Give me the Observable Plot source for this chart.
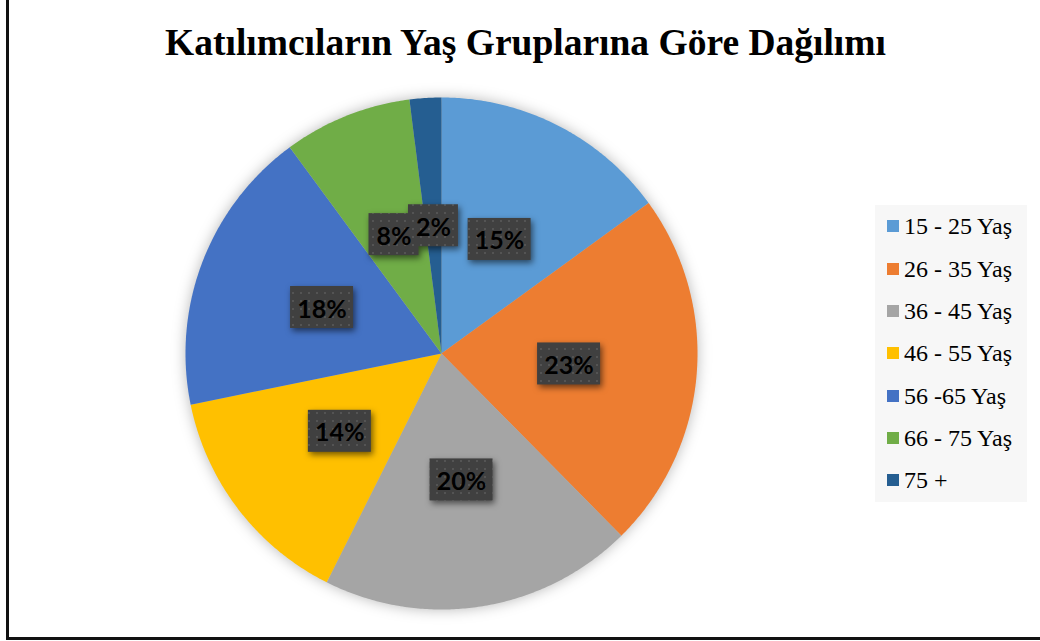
<!DOCTYPE html>
<html>
<head>
<meta charset="utf-8">
<script src="https://cdn.jsdelivr.net/npm/d3@7"></script>
<script src="https://cdn.jsdelivr.net/npm/@observablehq/plot@0.6"></script>
<style>
  html, body { margin: 0; padding: 0; background: #fff; }
  #page { position: relative; width: 1040px; height: 641px; overflow: hidden; background: #fff; }
  #frame { position: absolute; left: 6px; top: -5px; width: 1100px; height: 645px; box-sizing: border-box;
           border-left: 3px solid #111; border-bottom: 3px solid #111; }
  #title { position: absolute; left: 0; width: 1051px; top: 24px; text-align: center;
           font-family: "Liberation Serif", "Times New Roman", serif; font-weight: bold; font-size: 37.5px; line-height: 37.5px; color: #000; white-space: nowrap; }
  #pie { position: absolute; left: 161px; top: 73px; width: 560px; height: 560px; }
  #legend { position: absolute; left: 875px; top: 205px; width: 152px; height: 297px; background: #f7f7f7; }
  .row { position: absolute; left: 12px; height: 24px; display: flex; align-items: center; }
  .sw { width: 12px; height: 12px; margin-right: 5px; }
  .lt { font-family: "Liberation Serif", "Times New Roman", serif; font-size: 24px; line-height: 24px; color: #000; white-space: nowrap; }
</style>
</head>
<body>
<div id="page">
  <div id="frame"></div>
  <div id="title">Katılımcıların Yaş Gruplarına Göre Dağılımı</div>
  <div id="pie"></div>
  <div id="legend"></div>
</div>
<script>
// ---- data ----
const categories = ["15 - 25 Yaş", "26 - 35 Yaş", "36 - 45 Yaş", "46 - 55 Yaş", "56 -65 Yaş", "66 - 75 Yaş", "75 +"];
const shares = [15.0, 22.6, 19.8, 14.4, 18.1, 8.1, 2.0];
const labels = ["15%", "23%", "20%", "14%", "18%", "8%", "2%"];
const colors = ["#5B9BD5", "#ED7D31", "#A5A5A5", "#FFC000", "#4472C4", "#70AD47", "#255E91"];

// ---- geometry ----
const R = 256;
const half = 280;
const arcs = d3.pie().sort(null).value(d => d)(shares);

const slicePts = [];
arcs.forEach((a, i) => {
  slicePts.push({cat: categories[i], x: 0, y: 0});
  const n = Math.max(2, Math.ceil((a.endAngle - a.startAngle) / (Math.PI / 360)));
  for (let k = 0; k <= n; k++) {
    const t = a.startAngle + (a.endAngle - a.startAngle) * k / n;
    slicePts.push({cat: categories[i], x: R * Math.sin(t), y: R * Math.cos(t)});
  }
});

const lab = arcs.map((a, i) => {
  const m = (a.startAngle + a.endAngle) / 2;
  const r = R * 0.5;
  const x = r * Math.sin(m), y = r * Math.cos(m);
  const w = 24 + 13 * labels[i].length;
  return {label: labels[i], x, y, x1: x - w / 2, x2: x + w / 2, y1: y - 21, y2: y + 21};
});

const plot = Plot.plot({
  width: 560,
  height: 560,
  margin: 0,
  style: {background: "transparent", overflow: "visible"},
  x: {domain: [-half, half], axis: null},
  y: {domain: [-half, half], axis: null},
  color: {domain: categories, range: colors},
  marks: [
    Plot.line(slicePts, {x: "x", y: "y", z: "cat", fill: "cat", stroke: "none", curve: "linear"}),
    Plot.rect(lab, {x1: "x1", x2: "x2", y1: "y1", y2: "y2", fill: "url(#dotpat)"}),
    Plot.text(lab, {x: "x", y: "y", text: "label", dy: 2, fontSize: 25, fontWeight: "bold", fill: "#000",
                    fontFamily: "Lato, 'Open Sans', sans-serif"})
  ]
});

const svg = d3.select(plot);
const defs = svg.insert("defs", ":first-child");
const pat = defs.append("pattern").attr("id", "dotpat").attr("patternUnits", "userSpaceOnUse")
  .attr("width", 8).attr("height", 8);
pat.append("rect").attr("width", 8).attr("height", 8).attr("fill", "#404040");
pat.append("rect").attr("x", 3).attr("y", 3).attr("width", 2).attr("height", 2).attr("fill", "#545454");

svg.selectAll("g[aria-label='line']").style("filter", "drop-shadow(0px 0px 7px rgba(0,0,0,0.28))");
svg.selectAll("g[aria-label='rect']").style("filter", "drop-shadow(2px 3px 3px rgba(0,0,0,0.55))");

document.getElementById("pie").appendChild(plot);

// ---- legend ----
const legend = d3.select("#legend");
const rowCenters0 = 226.3 - 205, rowStep = 42.33;
categories.forEach((c, i) => {
  const row = legend.append("div").attr("class", "row")
    .style("top", (rowCenters0 + i * rowStep - 12) + "px");
  row.append("div").attr("class", "sw").style("background", colors[i]);
  row.append("div").attr("class", "lt").text(c);
});
</script>
</body>
</html>
